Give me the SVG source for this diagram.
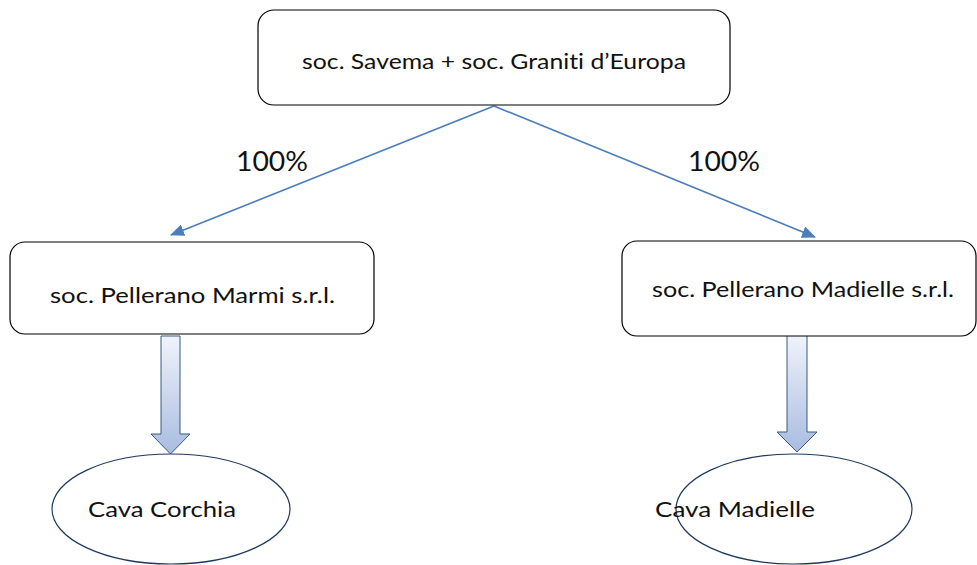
<svg xmlns="http://www.w3.org/2000/svg" width="977" height="565" viewBox="0 0 977 565">
<style>
.box{fill:#fff;stroke:#000;stroke-width:1.2}
.ell{fill:#fff;stroke:#1f3a5f;stroke-width:1.2}
.blk{fill:url(#g);stroke:#3b5a80;stroke-width:1}
.t{font-family:Lato,"Liberation Sans",Arial,sans-serif;font-weight:400;font-size:22px;fill:#111;font-variant-ligatures:none}
.p{font-family:Lato,"Liberation Sans",Arial,sans-serif;font-weight:400;font-size:27px;fill:#111}
.c{fill:none;stroke:#4a7ebb;stroke-width:1.6}
</style>
<defs>
<linearGradient id="g" x1="0" y1="0" x2="0" y2="1">
<stop offset="0" stop-color="#f0f3fa"/>
<stop offset="1" stop-color="#a8bce0"/>
</linearGradient>
<marker id="a" markerWidth="14" markerHeight="12" refX="13" refY="6" orient="auto" markerUnits="userSpaceOnUse" viewBox="0 0 14 12">
<path d="M0,0 L14,6 L0,12 z" fill="#4a7ebb"/>
</marker>
</defs>
<rect width="977" height="565" fill="#fff"/>
<g id="connectors">
<line class="c" x1="494" y1="106" x2="171" y2="235" marker-end="url(#a)"/>
<line class="c" x1="494" y1="106" x2="815" y2="237" marker-end="url(#a)"/>
<text class="p" x="236" y="171" textLength="72" lengthAdjust="spacingAndGlyphs">100%</text>
<text class="p" x="688" y="171" textLength="72" lengthAdjust="spacingAndGlyphs">100%</text>
<path class="blk" d="M161,336 H180 V434 H190 L170.5,454 L151,434 H161 Z"/>
<path class="blk" d="M787,335 H807 V432 H817 L797,452 L777,432 H787 Z"/>
</g>
<g id="top">
<rect class="box" x="258" y="10" width="472" height="95" rx="16"/>
<text class="t" x="302" y="69" textLength="384" lengthAdjust="spacingAndGlyphs">soc. Savema + soc. Graniti d’Europa</text>
</g>
<g id="marmi">
<rect class="box" x="10" y="242" width="364" height="92" rx="15"/>
<text class="t" x="50" y="303" textLength="285" lengthAdjust="spacingAndGlyphs">soc. Pellerano Marmi s.r.l.</text>
</g>
<g id="madielle">
<rect class="box" x="622" y="241" width="354" height="95" rx="15"/>
<text class="t" x="652" y="297" textLength="302" lengthAdjust="spacingAndGlyphs">soc. Pellerano Madielle s.r.l.</text>
</g>
<g id="corchia">
<ellipse class="ell" cx="171" cy="509" rx="119" ry="55"/>
<text class="t" x="88" y="517" textLength="148" lengthAdjust="spacingAndGlyphs">Cava Corchia</text>
</g>
<g id="cava-madielle">
<ellipse class="ell" cx="794" cy="509" rx="118" ry="55"/>
<text class="t" x="655" y="517" textLength="160" lengthAdjust="spacingAndGlyphs">Cava Madielle</text>
</g>
</svg>
